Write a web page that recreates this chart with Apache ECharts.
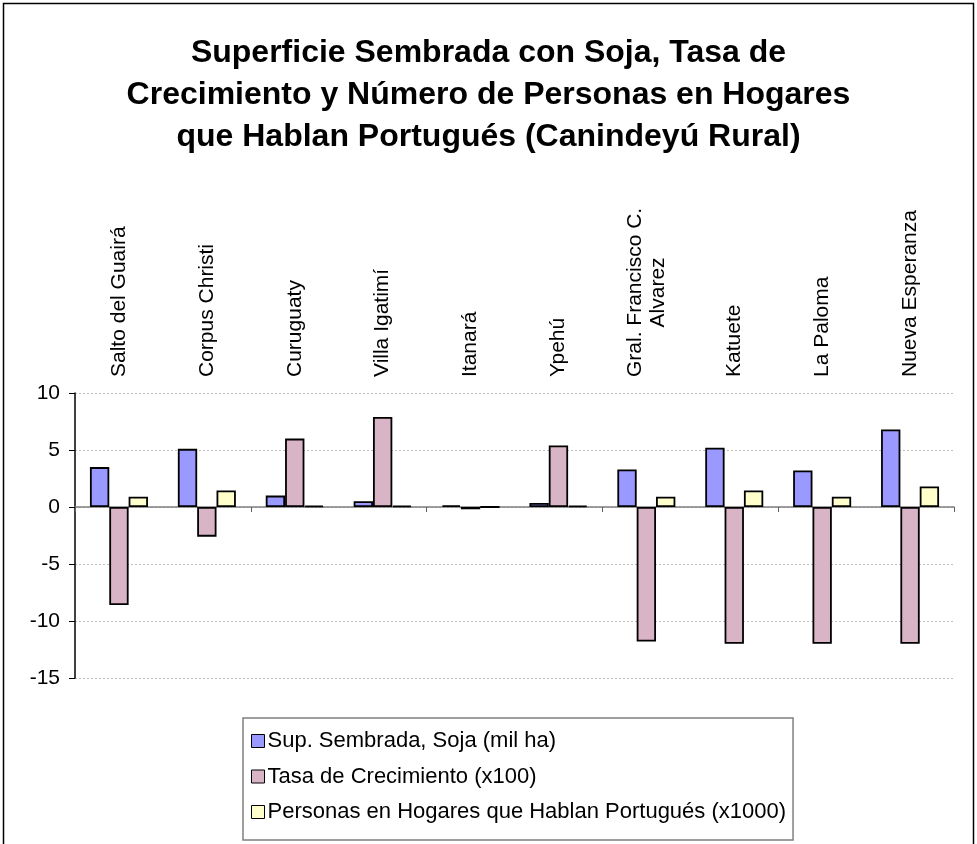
<!DOCTYPE html>
<html>
<head>
<meta charset="utf-8">
<script src="https://cdn.jsdelivr.net/npm/echarts@6/dist/echarts.min.js"></script>
<style>
html,body{margin:0;padding:0;background:#fff;}
#chart{width:977px;height:844px;}
</style>
</head>
<body>
<div id="chart"></div>
<script>
const titleText = 'Superficie Sembrada con Soja, Tasa de\nCrecimiento y Número de Personas en Hogares\nque Hablan Portugués (Canindeyú Rural)';
const categories = ['Salto del Guairá', 'Corpus Christi', 'Curuguaty', 'Villa Igatimí', 'Itanará', 'Ypehú', 'Gral. Francisco C.\nAlvarez', 'Katuete', 'La Paloma', 'Nueva Esperanza'];
const seriesNames = ['Sup. Sembrada, Soja (mil ha)', 'Tasa de Crecimiento (x100)', 'Personas en Hogares que Hablan Portugués (x1000)'];
const supSembrada = [3.5, 5.1, 1.0, 0.5, 0.15, 0.35, 3.3, 5.2, 3.2, 6.8];
const tasaCrecimiento = [-8.6, -2.6, 6.0, 7.9, -0.2, 5.4, -11.8, -12.0, -12.0, -12.0];
const personasPortugues = [0.9, 1.45, 0.12, 0.12, 0.0, 0.12, 0.9, 1.45, 0.9, 1.8];
const yTicks = {min: -15, max: 10, interval: 5};

const FONT = '"Liberation Sans", Arial, sans-serif';
const colors = ['#9999FF', '#D9B3C6', '#FFFFCC'];

const chart = echarts.init(document.getElementById('chart'), null, {renderer: 'canvas'});

function catLabel(v) {
  const parts = v.split('\n');
  if (parts.length > 1) {
    return '{a|' + parts[0] + '}\n{c|' + parts[1] + '}';
  }
  return '{a|' + v + '}';
}

const option = {
  backgroundColor: '#fff',
  animation: false,
  title: {
    text: titleText,
    left: 'center',
    top: 27,
    textStyle: {fontFamily: FONT, fontSize: 32, fontWeight: 'bold', color: '#000', lineHeight: 42}
  },
  graphic: [{
    type: 'rect',
    shape: {x: 3.5, y: 3.5, width: 970, height: 860},
    style: {fill: 'none', stroke: '#000', lineWidth: 1.5},
    silent: true,
    z: -1
  }],
  legend: {
    orient: 'vertical',
    left: 243,
    top: 718,
    itemWidth: 13,
    itemHeight: 13,
    itemGap: 13.5,
    icon: 'rect',
    padding: [12, 7, 17, 8],
    borderColor: '#808080',
    borderWidth: 1.5,
    textStyle: {fontFamily: FONT, fontSize: 22, lineHeight: 22, color: '#000', padding: [0, 0, 0, -2]},
    itemStyle: {borderColor: '#000', borderWidth: 1},
    data: seriesNames
  },
  grid: {left: 75, right: 23, top: 393, bottom: 166, containLabel: false},
  xAxis: [{
    type: 'category',
    data: categories,
    position: 'bottom',
    axisLine: {show: true, onZero: true, lineStyle: {color: '#808080', width: 1.5}},
    axisTick: {show: true, length: 5, lineStyle: {color: '#606060', width: 1}},
    axisLabel: {show: false},
    splitLine: {show: false}
  }, {
    type: 'category',
    data: categories,
    position: 'top',
    axisLine: {show: false},
    axisTick: {show: false},
    splitLine: {show: false},
    axisLabel: {
      show: true,
      rotate: -90,
      margin: 16,
      interval: 0,
      formatter: catLabel,
      rich: {
        a: {fontFamily: FONT, fontSize: 21, color: '#000', lineHeight: 23},
        c: {fontFamily: FONT, fontSize: 21, color: '#000', lineHeight: 23, align: 'center'}
      }
    }
  }],
  yAxis: {
    type: 'value',
    min: yTicks.min,
    max: yTicks.max,
    interval: yTicks.interval,
    axisLine: {show: true, lineStyle: {color: '#000', width: 1.5}},
    axisTick: {show: true, length: 6, lineStyle: {color: '#000', width: 1}},
    axisLabel: {fontFamily: FONT, fontSize: 21, color: '#000', margin: 15},
    splitLine: {show: true, lineStyle: {color: '#bbbbbb', type: [2, 2], width: 1}}
  },
  series: [
    {name: seriesNames[0], type: 'bar', data: supSembrada, xAxisIndex: 0,
     barGap: '0%', barCategoryGap: '34%',
     itemStyle: {color: colors[0], borderColor: '#000', borderWidth: 1.8}},
    {name: seriesNames[1], type: 'bar', data: tasaCrecimiento, xAxisIndex: 0,
     barGap: '0%', barCategoryGap: '34%',
     itemStyle: {color: colors[1], borderColor: '#000', borderWidth: 1.8}},
    {name: seriesNames[2], type: 'bar', data: personasPortugues, xAxisIndex: 0,
     barGap: '0%', barCategoryGap: '34%',
     itemStyle: {color: colors[2], borderColor: '#000', borderWidth: 1.8}}
  ]
};
chart.setOption(option);
</script>
</body>
</html>
